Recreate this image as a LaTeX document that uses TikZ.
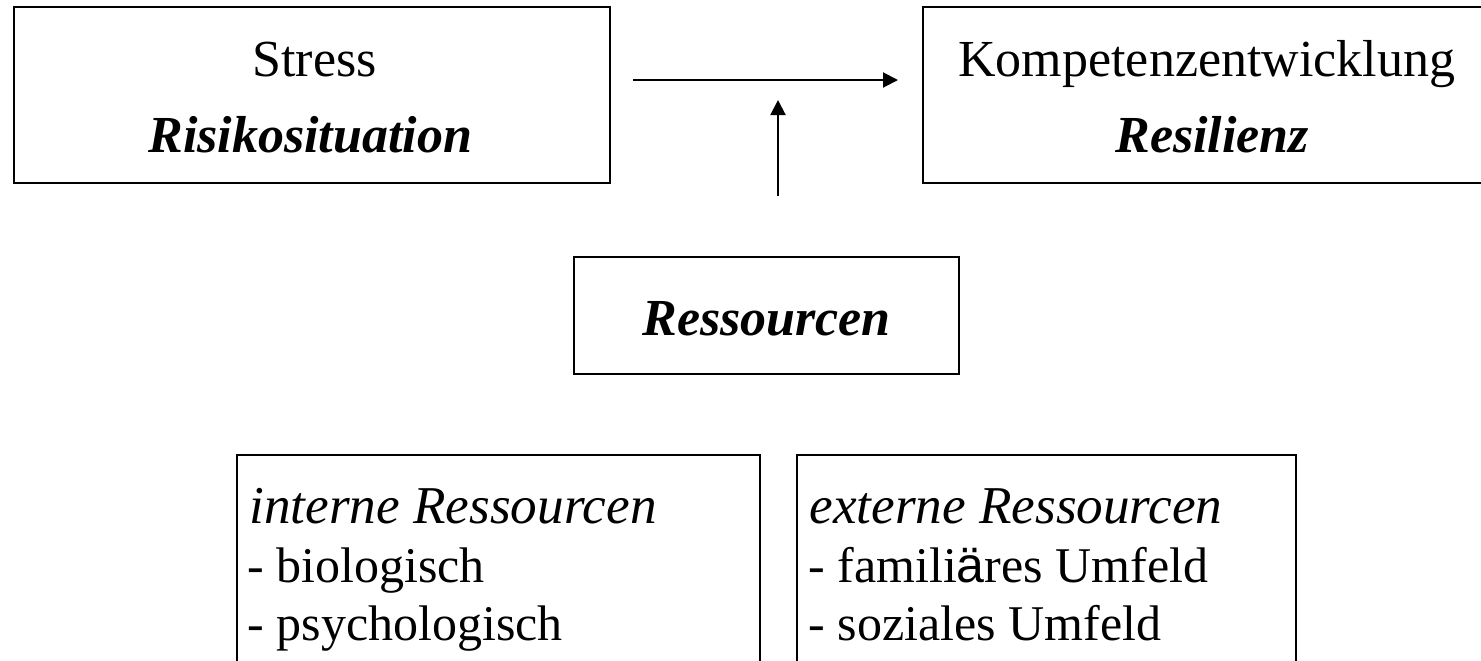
\documentclass[tikz,border=0pt]{standalone}
\usepackage{fontspec}
\setmainfont{Liberation Serif}
\newfontfamily\sansa{Liberation Sans}
\usetikzlibrary{arrows.meta,fit}
\begin{document}
\begin{tikzpicture}[x=0.5pt,y=-0.5pt,
  box/.style={draw,line width=1pt,inner sep=0pt},
  txt/.style={anchor=base west,inner sep=0pt,font=\fontsize{26}{29.5}\selectfont},
  ital/.style={txt,font=\fontsize{26.6}{29.5}\selectfont\itshape},
  item/.style={txt,font=\fontsize{25}{29.5}\selectfont},
  arr/.style={line width=1pt,-{Triangle[length=7.5pt,width=7.5pt]}}]
\clip (0,0) rectangle (1481,660);
\fill[white] (0,0) rectangle (1481,660);
\node[box,fit={(14,7) (610,183)}] (b1) {};
\node[box,fit={(923,7) (1495,183)}] (b2) {};
\node[box,fit={(574,257) (959,374)}] (b3) {};
\node[box,fit={(237,455) (760,700)}] (b4) {};
\node[box,fit={(797,455) (1296,700)}] (b5) {};
\node[txt] (t1) at (252,76) {Stress};
\node[txt] (t2) at (148,152) {\bfseries\itshape Risikosituation};
\node[txt] (t3) at (958,76) {Kompetenzentwicklung};
\node[txt] (t4) at (1115,152) {\bfseries\itshape Resilienz};
\node[txt] (t5) at (642,335) {\bfseries\itshape Ressourcen};
\node[ital] (t6) at (249,523) {interne Ressourcen};
\node[item] (t7) at (247,582) {- biologisch};
\node[item] (t8) at (247,640) {- psychologisch};
\node[ital] (t9) at (809,523) {externe Ressourcen};
\node[item] (t10) at (808,582) {- famili{\sansa ä}res Umfeld};
\node[item] (t11) at (808,640) {- soziales Umfeld};
\coordinate (h1) at (633,80);
\coordinate (h2) at (898,80);
\coordinate (v1) at (778,196);
\coordinate (v2) at (778,100);
\draw[arr] (h1) -- (h2);
\draw[arr] (v1) -- (v2);
\end{tikzpicture}
\end{document}
